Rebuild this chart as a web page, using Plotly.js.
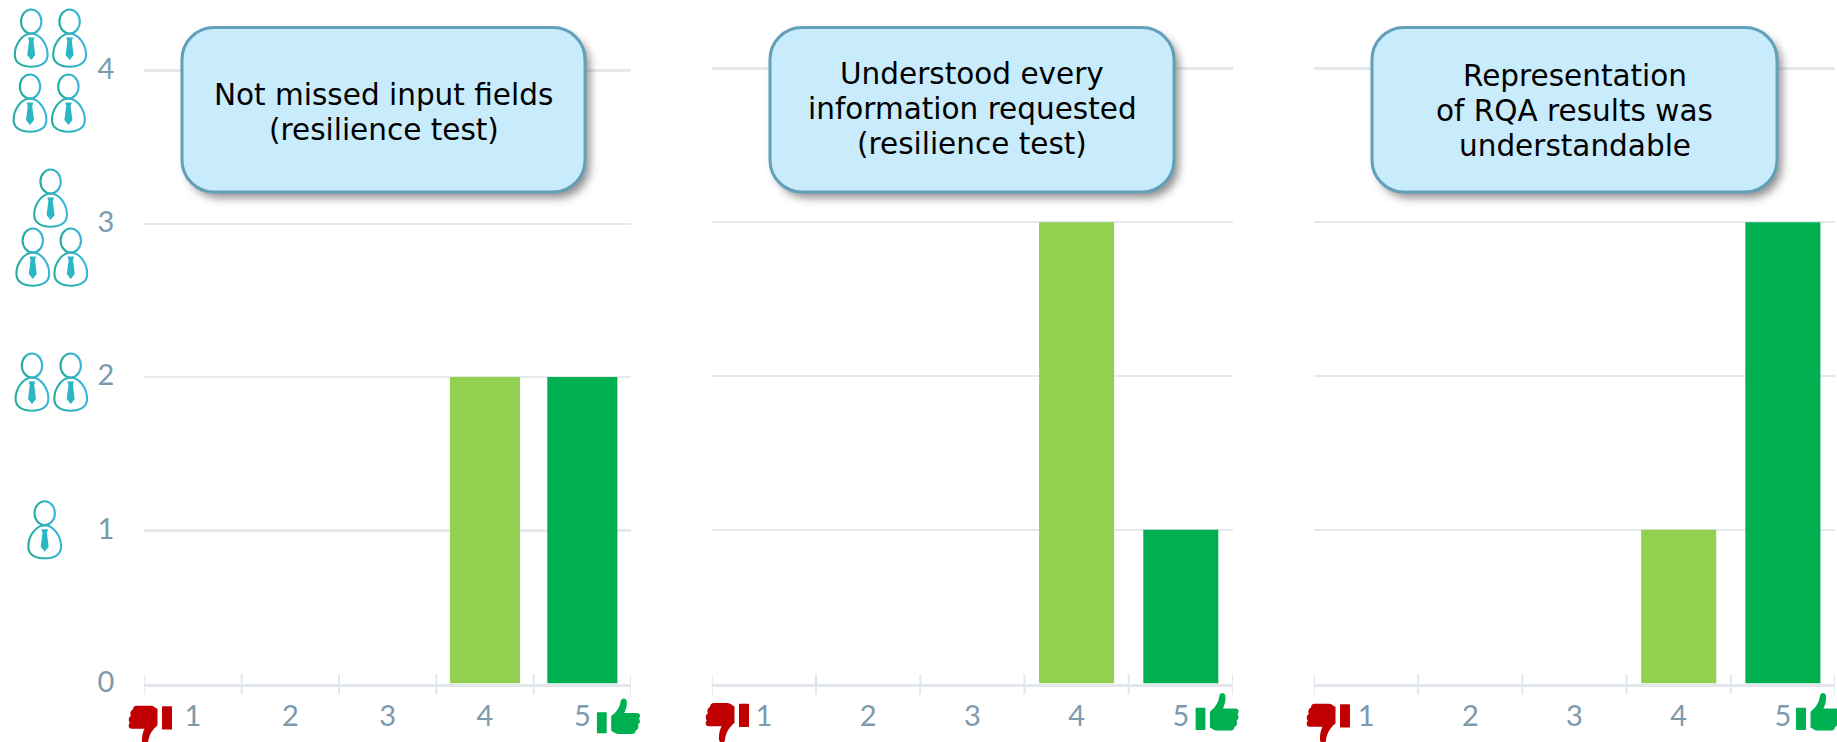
<!DOCTYPE html>
<html><head><meta charset="utf-8">
<script src="https://cdn.plot.ly/plotly-3.0.1.min.js"></script>
<style>html,body{margin:0;padding:0;background:#fff}#c{width:1837px;height:742px}</style></head>
<body><div id="c"></div>
<script>
var ratings = [1, 2, 3, 4, 5];
var ratingLabels = ['1', '2', '3', '4', '5'];
var panel1Title = ['Not missed input fields', '(resilience test)'];
var panel2Title = ['Understood every', 'information requested', '(resilience test)'];
var panel3Title = ['Representation', 'of RQA results was', 'understandable'];
var panel1Values = [0, 0, 0, 2, 2];
var panel2Values = [0, 0, 0, 3, 1];
var panel3Values = [0, 0, 0, 1, 3];
var barColors = ['#92d050', '#92d050', '#92d050', '#92d050', '#00b050'];
var yTicks = [0, 1, 2, 3, 4];

var W = 1837, H = 742;
var fx = function (p) { return p / W; };
var fy = function (p) { return 1 - p / H; };

var panels = [
  {vals: panel1Values, title: panel1Title, x0: 144.3, x1: 631, top: 70.6, bottom: 683.6, box: [182, 27.5, 585, 192], tu: [596.7, 698, 36], td: [128, 705.5], textY: 112},
  {vals: panel2Values, title: panel2Title, x0: 711.8, x1: 1232.9, top: 68.5, bottom: 683.6, box: [770, 27.5, 1174, 192], tu: [1195.4, 692.7, 38], td: [705, 703], textY: 109},
  {vals: panel3Values, title: panel3Title, x0: 1314, x1: 1835, top: 68.5, bottom: 683.6, box: [1372, 27.5, 1777, 192], tu: [1796, 692.7, 38], td: [1306, 703.5], textY: 111}
];
var lineGap = 35;
var headroom = 0.06;

var data = [], layout = {
  width: W, height: H, margin: {l: 0, r: 0, t: 0, b: 0}, showlegend: false, barmode: 'overlay',
  paper_bgcolor: '#fff', plot_bgcolor: 'rgba(0,0,0,0)', shapes: [], annotations: [], images: []
};

function uri(svg) { return 'data:image/svg+xml;charset=utf-8,' + encodeURIComponent(svg); }
function addImage(svg, x, y, w, h) {
  layout.images.push({source: uri(svg), xref: 'paper', yref: 'paper', x: fx(x), y: fy(y),
    sizex: w / W, sizey: h / H, xanchor: 'left', yanchor: 'top', sizing: 'stretch', layer: 'above'});
}

var person = '<svg xmlns="http://www.w3.org/2000/svg" width="36" height="60" viewBox="0 0 36 60">' +
  '<defs><linearGradient id="g" x1="0" x2="1" y1="0.6" y2="0.4"><stop offset="0" stop-color="#25ad9c"/><stop offset="1" stop-color="#39b5dc"/></linearGradient></defs>' +
  '<ellipse cx="18" cy="13.5" rx="10.2" ry="12" fill="none" stroke="url(#g)" stroke-width="2.1"/>' +
  '<path d="M18 25.5C9 26 1.6 36 1.6 47C1.6 55 9 58.7 18 58.7C27 58.7 34.4 55 34.4 47C34.4 36 27 26 18 25.5Z" fill="none" stroke="url(#g)" stroke-width="2.1"/>' +
  '<path d="M14.6 29.5H21.4L20.2 33L22 47L18 52L14 47L15.8 33Z" fill="#2bb6c6"/></svg>';
var personSpots = [[32, 353], [70.7, 353], [44.7, 500.7], [50.6, 169], [32.8, 228], [70.8, 228],
  [31.2, 9], [69.6, 9], [30, 74], [68.4, 74]];
personSpots.forEach(function (p) { addImage(person, p[0] - 18, p[1] - 1, 36, 60); });

var hand = 'M14.5 18C19 15 23 10 24 3C24.5 -.5 29.5 -.5 30 3C30.5 8 29 12 27.5 15L40 15C44 15 44 19 42 20.5C44 22 43.5 26 41 26.5C42.5 28 41.5 32 39 32.5C39 35 37 36 35 36L22 36C18 36 16 33 14.5 33Z';
function thumb(color, flip) {
  return '<svg xmlns="http://www.w3.org/2000/svg" width="44" height="36" viewBox="0 0 44 36" preserveAspectRatio="none"><g fill="' + color + '"' +
    (flip ? ' transform="translate(44 36) rotate(180)"' : '') + '><rect x="0" y="14.3" width="10" height="21" rx=".6"/><path d="' + hand + '"/></g></svg>';
}
var shadow = function (w, h) {
  var pad = 16;
  return '<svg xmlns="http://www.w3.org/2000/svg" width="' + (w + 2 * pad) + '" height="' + (h + 2 * pad) + '">' +
    '<defs><filter id="b" x="-10%" y="-10%" width="120%" height="120%"><feGaussianBlur stdDeviation="4"/></filter></defs>' +
    '<rect x="' + pad + '" y="' + pad + '" width="' + w + '" height="' + h + '" rx="32" fill="#555" fill-opacity=".65" filter="url(#b)"/></svg>';
};

panels.forEach(function (p, i) {
  var n = i === 0 ? '' : String(i + 1);
  var unit = (p.bottom - p.top) / 4;
  data.push({type: 'bar', x: ratings, y: p.vals, width: 0.72, xaxis: 'x' + n, yaxis: 'y' + n,
    marker: {color: barColors, line: {width: 0}}, hoverinfo: 'x+y'});
  layout['xaxis' + n] = {
    domain: [fx(p.x0), fx(p.x1)], range: [0.5, 5.5], anchor: 'y' + n, type: 'linear',
    tickmode: 'array', tickvals: ratings, ticktext: ratingLabels, ticks: '', showgrid: false, zeroline: false,
    showline: true, linecolor: '#e1e7ec', linewidth: 3, ticklabelstandoff: 5,
    tickfont: {family: 'Lato, sans-serif', size: 29, color: '#7b9aad'}
  };
  layout['yaxis' + n] = {
    domain: [fy(p.bottom), fy(p.top - headroom * unit)], range: [0, 4 + headroom], anchor: 'x' + n, type: 'linear',
    tickmode: 'array', tickvals: yTicks, ticktext: yTicks.map(String), ticks: '', showgrid: true, gridcolor: '#e3e9ed', gridwidth: 2.4,
    zeroline: false, showline: false, showticklabels: i === 0, ticklabelstandoff: 29, ticklabelshift: -2,
    tickfont: {family: 'Lato, sans-serif', size: 29, color: '#7b9aad'}
  };
  for (var k = 0; k <= ratings.length; k++) {
    layout.shapes.push({type: 'line', xref: 'x' + n, yref: 'paper', x0: 0.5 + k, x1: 0.5 + k, y0: fy(674.5), y1: fy(694.5),
      line: {color: '#e1e7ec', width: 2}, layer: 'below'});
  }
  var b = p.box, bw = b[2] - b[0], bh = b[3] - b[1];
  addImage(shadow(bw, bh), b[0] + 5 - 16, b[1] + 6 - 16, bw + 32, bh + 32);
  var r = 32, c = r * 0.448, L = b[0], R = b[2], T = b[1], B = b[3];
  var pt = function (a, d) { return fx(a) + ' ' + fy(d); };
  layout.shapes.push({type: 'path', xref: 'paper', yref: 'paper', layer: 'above',
    path: 'M' + pt(L + r, T) + 'L' + pt(R - r, T) + 'C' + pt(R - c, T) + ' ' + pt(R, T + c) + ' ' + pt(R, T + r) +
      'L' + pt(R, B - r) + 'C' + pt(R, B - c) + ' ' + pt(R - c, B) + ' ' + pt(R - r, B) +
      'L' + pt(L + r, B) + 'C' + pt(L + c, B) + ' ' + pt(L, B - c) + ' ' + pt(L, B - r) +
      'L' + pt(L, T + r) + 'C' + pt(L, T + c) + ' ' + pt(L + c, T) + ' ' + pt(L + r, T) + 'Z',
    fillcolor: '#c8ecfc', line: {color: '#629fb8', width: 3}});
  p.title.forEach(function (line, j) {
    layout.annotations.push({xref: 'paper', yref: 'paper', x: fx((L + R) / 2), y: fy(p.textY + (j - (p.title.length - 1) / 2) * lineGap),
      xanchor: 'center', yanchor: 'middle', text: line, showarrow: false, align: 'center',
      font: {family: '"DejaVu Sans", sans-serif', size: 29.5, color: '#000'}});
  });
  addImage(thumb('#00b050', false), p.tu[0], p.tu[1], 44, p.tu[2]);
  addImage(thumb('#c00000', true), p.td[0], p.td[1], 44, 40);
});

Plotly.newPlot('c', data, layout, {displayModeBar: false, staticPlot: true});
</script></body></html>
